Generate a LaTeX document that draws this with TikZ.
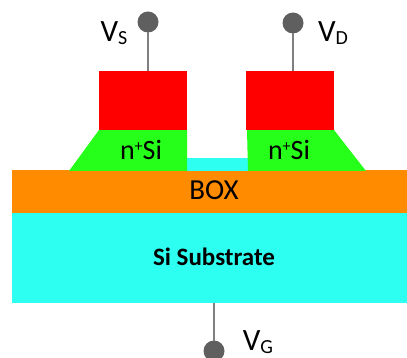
\documentclass[tikz,border=0pt]{standalone}
\usepackage{fontspec}
\setmainfont{Carlito}
\usepackage{tikz}
\definecolor{Contact}{HTML}{FF0000}
\definecolor{Doped}{HTML}{26FF1A}
\definecolor{Oxide}{HTML}{FF8C00}
\definecolor{Silicon}{HTML}{2DFFF0}
\definecolor{Terminal}{HTML}{5F5F5F}
\definecolor{Lead}{HTML}{7F7F7F}
\newcommand{\nplus}{n\raisebox{8pt}{\fontsize{16}{16}\selectfont +}Si}
\newcommand{\vsub}[1]{V\raisebox{-3pt}{\fontsize{20}{20}\selectfont #1}}
\tikzset{
    block/.style={inner sep=0pt,outer sep=0pt},
    contactbox/.style={block,fill=Contact,minimum width=88pt,minimum height=59pt},
    terminal/.style={circle,fill=Terminal,inner sep=0pt,outer sep=0pt,minimum size=21pt},
    lead/.style={draw=Lead,line width=1.3pt},
    volt/.style={inner sep=0pt,font=\fontsize{31}{31}\selectfont},
    dopedtext/.style={inner sep=0pt,font=\fontsize{28}{28}\selectfont}
}
\begin{document}
\begin{tikzpicture}[x=1pt,y=-1pt]
    \useasboundingbox (0,0) rectangle (407,358);
    \fill[white] (0,0) rectangle (407,358);

    \node[block,fill=Silicon,minimum width=395pt,minimum height=90pt] (substrate) at (209.5,258) {};
    \node[block,fill=Oxide,minimum width=395pt,minimum height=43pt] (box) at (209.5,191.5) {};
    \node[block,fill=Silicon,minimum width=62pt,minimum height=13pt] (channel) at (217,164.5) {};

    \fill[Doped] (99,130) -- (187,130) -- (187,171) -- (69,171) -- cycle;
    \fill[Doped] (247,130) -- (334,130) -- (366,171) -- (248,171) -- cycle;

    \node[contactbox] (source) at (143,100.5) {};
    \node[contactbox] (drain) at (290,100.5) {};

    \node[terminal] (vsterm) at (148,22) {};
    \node[terminal] (vdterm) at (293,23) {};
    \node[terminal] (vgterm) at (214,351) {};

    \draw[lead] (vsterm) -- (vsterm |- source.north);
    \draw[lead] (vdterm) -- (vdterm |- drain.north);
    \draw[lead] (vgterm |- substrate.south) -- (vgterm);

    \node[volt] (vslabel) at (114,33) {\vsub{S}};
    \node[volt] (vdlabel) at (333,33) {\vsub{D}};
    \node[volt] (vglabel) at (258,342) {\vsub{G}};

    \node[dopedtext] (nleft) at (141,150) {\nplus};
    \node[dopedtext] (nright) at (289,150) {\nplus};
    \node[dopedtext,font=\fontsize{29}{29}\selectfont] (boxlabel) at (214,190) {BOX};
    \node[inner sep=0pt,font=\bfseries\fontsize{25}{25}\selectfont] (sublabel) at (214,257) {Si Substrate};
\end{tikzpicture}
\end{document}
